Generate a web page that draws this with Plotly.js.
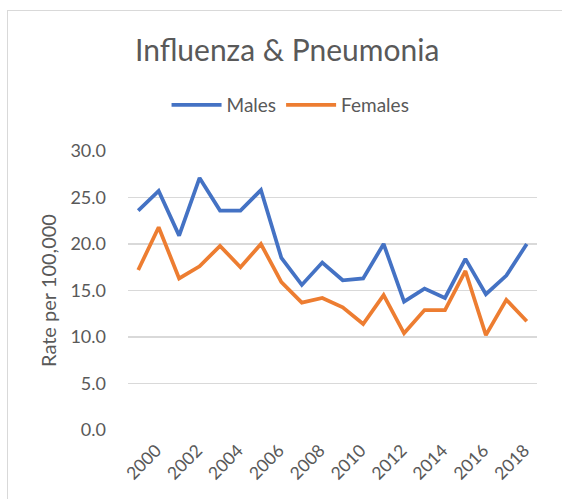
<!DOCTYPE html>
<html>
<head>
<meta charset="utf-8">
<script src="https://cdn.plot.ly/plotly-3.0.1.min.js"></script>
<style>
  html, body { margin: 0; padding: 0; width: 562px; height: 499px; overflow: hidden; background: #ffffff; }
  #frame { position: absolute; left: 7px; top: 10px; width: 700px; height: 700px; border: 1.5px solid #D9D9D9; box-sizing: border-box; }
  #chart { position: absolute; left: 0; top: 0; width: 562px; height: 499px; }
</style>
</head>
<body>
<div id="frame"></div>
<div id="chart"></div>
<script>
const years = [2000, 2001, 2002, 2003, 2004, 2005, 2006, 2007, 2008, 2009,
               2010, 2011, 2012, 2013, 2014, 2015, 2016, 2017, 2018, 2019];
const males = [23.6, 25.7, 20.9, 27.1, 23.6, 23.6, 25.8, 18.5, 15.6, 18.0,
               16.1, 16.3, 20.0, 13.8, 15.2, 14.2, 18.4, 14.6, 16.6, 20.0];
const females = [17.2, 21.8, 16.3, 17.6, 19.8, 17.5, 20.0, 15.9, 13.7, 14.2,
                 13.2, 11.4, 14.5, 10.4, 12.9, 12.9, 17.1, 10.2, 14.0, 11.7];
const tickYears = [2000, 2002, 2004, 2006, 2008, 2010, 2012, 2014, 2016, 2018];
const yTicks = [0, 5, 10, 15, 20, 25, 30];

const FONT = 'Lato, "Open Sans", sans-serif';
const TXT = '#595959';

const traces = [
  { x: years, y: males, name: 'Males', type: 'scatter', mode: 'lines',
    line: { color: '#4472C4', width: 3.75 } },
  { x: years, y: females, name: 'Females', type: 'scatter', mode: 'lines',
    line: { color: '#ED7D31', width: 3.75 } }
];

const layout = {
  width: 562, height: 499,
  paper_bgcolor: 'rgba(0,0,0,0)', plot_bgcolor: 'rgba(0,0,0,0)',
  margin: { l: 128, r: 25, t: 151, b: 69 },
  font: { family: FONT, color: TXT },
  title: { text: 'Influenza & Pneumonia', font: { family: FONT, size: 30, color: TXT },
           xref: 'container', yref: 'container', x: 0.511, xanchor: 'center',
           y: 1 - 50 / 499, yanchor: 'middle' },
  showlegend: true,
  legend: { orientation: 'h', xref: 'container', yref: 'container',
            x: 0.517, xanchor: 'center', y: 1 - 105 / 499, yanchor: 'middle',
            font: { family: FONT, size: 19, color: TXT }, itemwidth: 50,
            traceorder: 'normal' },
  xaxis: {
    range: [1999.5, 2019.5], tickmode: 'array', tickvals: tickYears,
    ticktext: tickYears.map(String), tickangle: -45,
    showgrid: false, zeroline: false, showline: false, ticks: '',
    tickfont: { family: FONT, size: 17.5, color: TXT },
    ticklabelshift: 18, ticklabelstandoff: 6
  },
  yaxis: {
    range: [0, 30], tickmode: 'array', tickvals: yTicks,
    tickformat: '.1f', showgrid: true, gridcolor: '#D9D9D9', gridwidth: 1.3,
    zeroline: false, showline: false, ticks: '',
    tickfont: { family: FONT, size: 18, color: TXT },
    ticklabelstandoff: 21,
    title: { text: 'Rate per 100,000', font: { family: FONT, size: 20, color: TXT }, standoff: 8 }
  }
};

Plotly.newPlot('chart', traces, layout, { displayModeBar: false, staticPlot: true });
</script>
</body>
</html>
